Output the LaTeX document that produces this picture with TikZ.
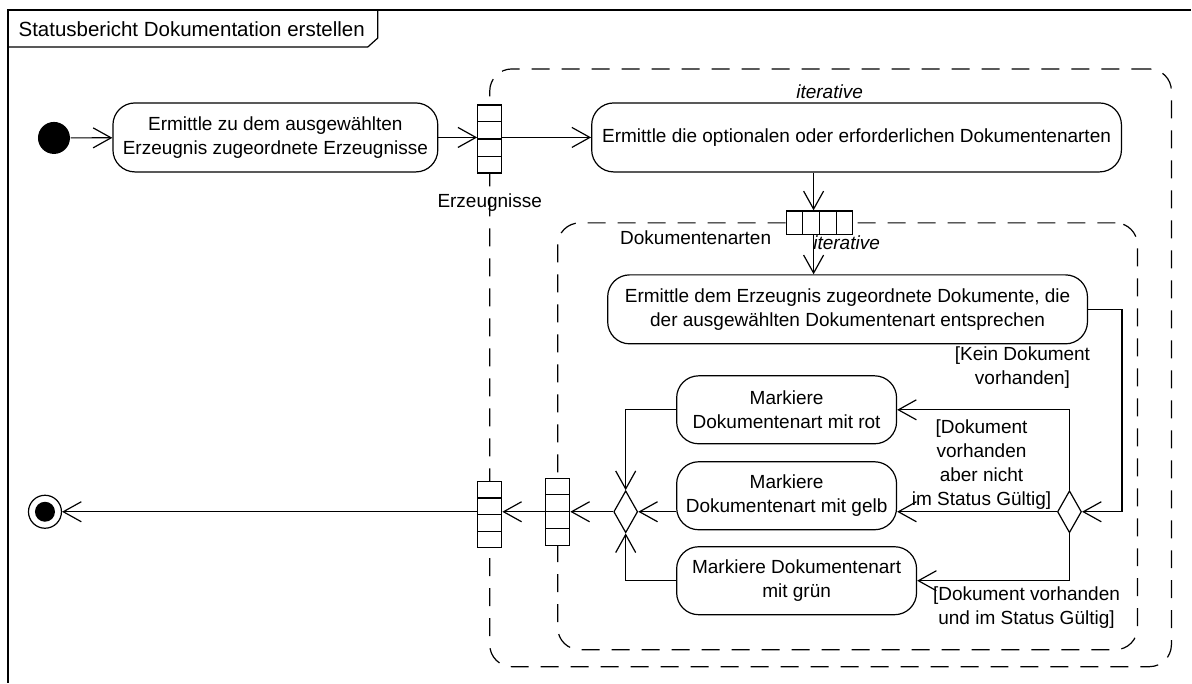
\documentclass[tikz,border=0pt]{standalone}
\usepackage{fontspec}
\setmainfont{Liberation Sans}
\usetikzlibrary{arrows.meta, positioning, shapes.geometric, calc}
\newcommand{\diagfont}{\fontsize{19}{24}\selectfont}

\begin{document}
\begin{tikzpicture}[x=1pt,y=-1pt,line width=1.2pt,font=\diagfont]
 \tikzstyle{actbox}=[rectangle,rounded corners=22pt,draw=black,
   minimum height=69pt,align=center,inner sep=0pt]
 \tikzstyle{pinbox}=[rectangle,draw=black,fill=white,inner sep=0pt]
 \tikzstyle{regionbox}=[rectangle,rounded corners=22pt,draw=black,
   dash pattern=on 18pt off 12pt,inner sep=0pt]
 \tikzstyle{choice}=[diamond,draw=black,fill=white,inner sep=0pt,
   minimum width=24pt,minimum height=42pt]
 \tikzstyle{guard}=[align=center,inner sep=0pt]
 \tikzstyle{flow}=[-{Straight Barb[length=18pt,width=20pt]}]

 % page and frame with its name tab
 \fill[white] (0,0) rectangle (1192,683);
 \draw (8,683) -- (8,10) -- (1192,10);
 \draw (8,47) -- (368,47) -- (378,38) -- (378,10);
 \node (title) [anchor=west,inner sep=0pt,font=\fontsize{20.5}{24}\selectfont]
   at (18,29) {Statusbericht Dokumentation erstellen};

 % expansion regions
 \node (loopErz) [regionbox,minimum width=682pt,minimum height=598pt]
   at (831,368) {};
 \node (loopArts) [regionbox,minimum width=580pt,minimum height=427pt]
   at (848,436.5) {};
 \node (iterErz) [font=\diagfont\itshape] at (830,92) {iterative};

 % actions
 \node (start) [circle,fill=black,minimum size=32pt,inner sep=0pt]
   at (54,138) {};
 \node (findErz) [actbox,minimum width=325pt] at (275.5,137.5)
   {Ermittle zu dem ausgewählten\\Erzeugnis zugeordnete Erzeugnisse};
 \node (findArts) [actbox,minimum width=530pt] at (857,137.5)
   {Ermittle die optionalen oder erforderlichen Dokumentenarten};
 \node (findDocs) [actbox,minimum width=480pt] at (848,309.5)
   {Ermittle dem Erzeugnis zugeordnete Dokumente, die\\der ausgewählten Dokumentenart entsprechen};
 \node (markRot) [actbox,minimum width=220pt,minimum height=68pt]
   at (787,410) {Markiere\\Dokumentenart mit rot};
 \node (markGelb) [actbox,minimum width=220pt,minimum height=68pt]
   at (787,496) {Markiere\\Dokumentenart mit gelb};
 \node (markGruen) [actbox,minimum width=240pt,minimum height=68pt]
   at (797,581) {Markiere Dokumentenart\\mit grün};
 \node (decide) [choice] at (1070,512) {};
 \node (merge) [choice] at (626,512) {};
 \node (finish) [circle,draw=black,minimum size=33pt,inner sep=0pt]
   at (45,512) {};
 \fill (finish.center) circle (10pt);

 % pins
 \node (pinErz) [pinbox,minimum width=24pt,minimum height=68pt]
   at (490,139) {};
 \node (erzLabel) [below=20pt of pinErz,inner sep=0pt] {Erzeugnisse};
 \node (pinArts) [pinbox,minimum width=66pt,minimum height=24pt]
   at (820,223) {};
 \node (artsLabel) at (696,238) {Dokumentenarten};
 \node (iterArts) [font=\diagfont\itshape] at (847,243) {iterative};
 \node (pinIn) [pinbox,minimum width=24pt,minimum height=67pt]
   at (558,512) {};
 \node (pinOut) [pinbox,minimum width=24pt,minimum height=66pt]
   at (490,515) {};
 \foreach \p in {pinErz,pinIn,pinOut}
   \foreach \k in {1,2,3}
     \draw ($(\p.north west)!\k/4!(\p.south west)$)
       -- ($(\p.north east)!\k/4!(\p.south east)$);
 \foreach \k in {1,2,3}
   \draw ($(pinArts.north west)!\k/4!(pinArts.north east)$)
     -- ($(pinArts.south west)!\k/4!(pinArts.south east)$);

 % guards
 \node (noDoc) [guard] at (1023,368) {[Kein Dokument\\vorhanden]};
 \node (invalidDoc) [guard] at (982,465)
   {[Dokument\\vorhanden\\aber nicht\\im Status Gültig]};
 \node (validDoc) [guard] at (1027,608)
   {[Dokument vorhanden\\und im Status Gültig]};

 % flows
 \draw[flow] (start) -- (findErz);
 \draw[flow] (findErz.east) -- (findErz.east -| pinErz.west);
 \draw[flow] (findErz.east -| pinErz.east) -- (findArts.west);
 \draw[flow] ([xshift=-6pt]pinArts.north |- findArts.south)
   -- ([xshift=-6pt]pinArts.north);
 \draw[flow] ([xshift=-6pt]pinArts.south)
   -- ([xshift=-6pt]pinArts.south |- findDocs.north);
 \draw[flow] (findDocs.east) -| ([xshift=40pt]decide.east) -- (decide.east);
 \draw[flow] (decide.north) |- (markRot.east);
 \draw[flow] (decide.west) -- (decide.west -| markGelb.east);
 \draw[flow] (decide.south) |- (markGruen.east);
 \draw[flow] (markRot.west) -| (merge.north);
 \draw[flow] (merge.east -| markGelb.west) -- (merge.east);
 \draw[flow] (markGruen.west) -| (merge.south);
 \draw[flow] (merge.west) -- (merge.west -| pinIn.east);
 \draw[flow] (merge.west -| pinIn.west) -- (merge.west -| pinOut.east);
 \draw[flow] (merge.west -| pinOut.west) -- (finish.east);
\end{tikzpicture}
\end{document}
